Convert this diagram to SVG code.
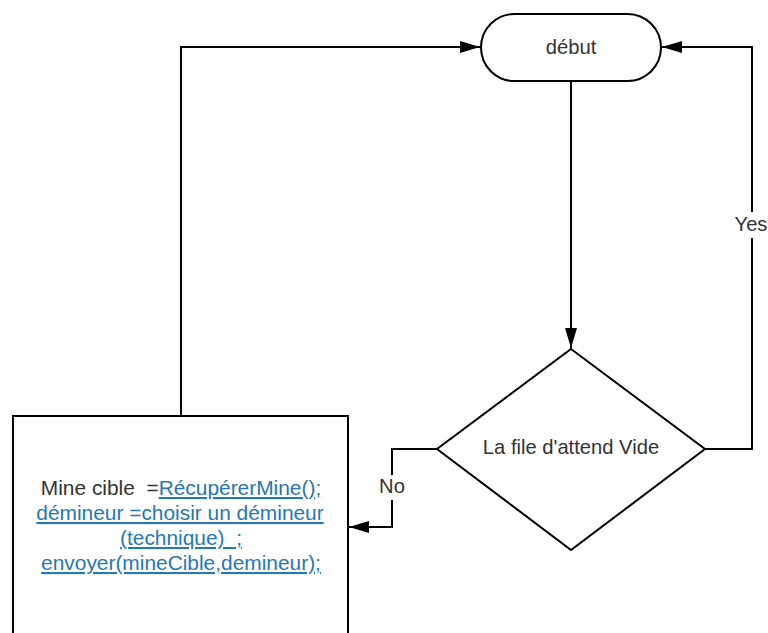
<svg xmlns="http://www.w3.org/2000/svg" width="768" height="633" viewBox="0 0 768 633">
  <style>
    .shape { fill: #ffffff; stroke: #000000; stroke-width: 2; }
    .edge { fill: none; stroke: #000000; stroke-width: 2; }
    .lbl { font-family: "Liberation Sans", Arial, sans-serif; font-size: 20.2px; fill: #333333; text-anchor: middle; white-space: pre; }
    .body { font-size: 20.9px; }
    .link { fill: #2678b6; text-decoration: underline; }
  </style>
  <defs>
    <marker id="arrow" markerUnits="userSpaceOnUse" markerWidth="20" markerHeight="12" refX="20" refY="6" orient="auto">
      <path d="M0,0 L20,6 L0,12 Z" fill="#000000"/>
    </marker>
  </defs>
  <rect width="768" height="633" fill="#ffffff"/>

  <g id="connectors">
    <path class="edge" d="M571,81 V348" marker-end="url(#arrow)"/>
    <path class="edge" d="M705,449 H752 V47 H662" marker-end="url(#arrow)"/>
    <path class="edge" d="M437,449 H392 V527 H349" marker-end="url(#arrow)"/>
    <path class="edge" d="M181,416 V47 H480" marker-end="url(#arrow)"/>
    <g id="label-yes">
      <rect x="734" y="212" width="34" height="26" fill="#ffffff"/>
      <text class="lbl" x="751" y="230.5">Yes</text>
    </g>
    <g id="label-no">
      <rect x="377" y="475" width="30" height="25" fill="#ffffff"/>
      <text class="lbl" x="392" y="492.5">No</text>
    </g>
  </g>

  <g id="start">
    <rect class="shape" x="481" y="14" width="180" height="67" rx="33.5" ry="33.5"/>
    <text class="lbl" x="571" y="54">début</text>
  </g>

  <g id="decision">
    <polygon class="shape" points="571,349 705,449 571,550 437,449"/>
    <text class="lbl" x="571" y="454">La file d'attend Vide</text>
  </g>

  <g id="process">
    <rect class="shape" x="13" y="416" width="335" height="300"/>
    <text class="lbl body" x="181" y="495">Mine cible  =<tspan class="link">RécupérerMine();</tspan></text>
    <text class="lbl body link" x="180" y="520">démineur =choisir un démineur</text>
    <text class="lbl body link" x="181" y="545">(technique)  ;</text>
    <text class="lbl body link" x="181" y="570">envoyer(mineCible,demineur);</text>
  </g>
</svg>
